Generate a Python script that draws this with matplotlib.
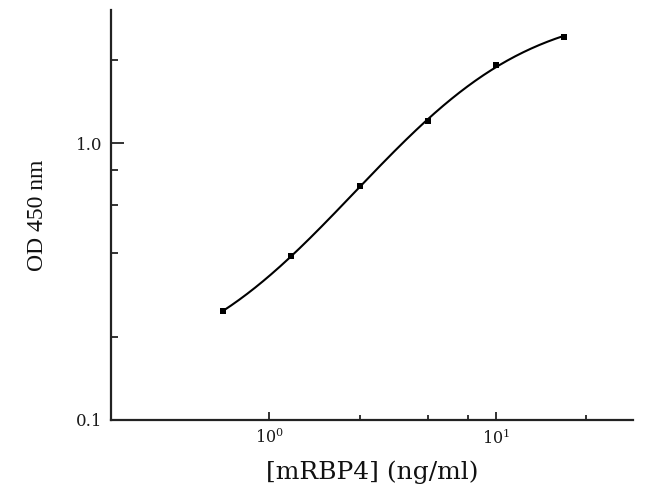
import numpy as np
import matplotlib
matplotlib.use("Agg")
import matplotlib.pyplot as plt
from matplotlib.ticker import FixedLocator, NullFormatter

# Data
conc = [0.625, 1.25, 2.5, 5, 10, 20]          # [mRBP4] (ng/ml)
od = [0.248, 0.391, 0.701, 1.20, 1.92, 2.43]   # OD 450 nm

x_major = [1, 10]
x_major_labels = ["10$^{0}$", "10$^{1}$"]
x_minor = [2.5, 5, 7.5, 25]
y_major = [0.1, 1.0]
y_major_labels = ["0.1", "1.0"]
y_minor = [0.2, 0.4, 0.6, 0.8, 2]


# four-parameter logistic fit (standard curve), Levenberg-Marquardt in numpy
def model(p, x):
    a, b, lc, d = p
    return d + (a - d) / (1.0 + (x / np.exp(lc)) ** b)


xd = np.asarray(conc, float); yd = np.asarray(od, float)


def resid(p):
    m = model(p, xd)
    m = np.where(m > 1e-6, m, 1e-6)
    return np.log10(m) - np.log10(yd)


p = np.array([0.1, 1.2, np.log(5.0), 3.0])
lam = 1e-2
r = resid(p); cost = r @ r
for _ in range(500):
    J = np.empty((len(xd), 4))
    for k in range(4):
        dp = np.zeros(4); dp[k] = 1e-6 * max(1.0, abs(p[k]))
        J[:, k] = (resid(p + dp) - r) / dp[k]
    H = J.T @ J
    g = J.T @ r
    step = np.linalg.solve(H + lam * np.diag(np.diag(H) + 1e-12), -g)
    pn = p + step
    rn = resid(pn); cn = rn @ rn
    if np.isfinite(cn) and cn < cost:
        p, r, cost = pn, rn, cn
        lam *= 0.5
    else:
        lam *= 4
    if lam > 1e8:
        break

xs = np.logspace(np.log10(xd[0]), np.log10(xd[-1]), 300)
ys = model(p, xs)

plt.rcParams['font.family'] = ['DejaVu Serif', 'Liberation Serif']
plt.rcParams['mathtext.fontset'] = 'dejavuserif'

fig = plt.figure(figsize=(6.5, 4.92), dpi=100)
ax = fig.add_axes([111 / 650, 72 / 492, (632.7 - 111) / 650, (420 - 10) / 492])

ax.plot(xs, ys, color='black', lw=1.5, solid_capstyle='round')
ax.plot(conc, od, linestyle='none', marker='s', markersize=4.4,
        color='black', markeredgewidth=0)

ax.set_xscale('log'); ax.set_yscale('log')
ax.set_xlim(0.2, 40)
ax.set_ylim(0.1, 3.03)

ax.xaxis.set_major_locator(FixedLocator(x_major))
ax.set_xticklabels(x_major_labels)
ax.xaxis.set_minor_locator(FixedLocator(x_minor))
ax.xaxis.set_minor_formatter(NullFormatter())
ax.yaxis.set_major_locator(FixedLocator(y_major))
ax.set_yticklabels(y_major_labels)
ax.yaxis.set_minor_locator(FixedLocator(y_minor))
ax.yaxis.set_minor_formatter(NullFormatter())

for s in ['top', 'right']:
    ax.spines[s].set_visible(False)
for s in ['left', 'bottom']:
    ax.spines[s].set_linewidth(1.6)
    ax.spines[s].set_color('#222222')

ax.tick_params(axis='x', which='major', direction='in', length=5.5, width=1.3,
               labelsize=11.5, pad=6, colors='#222222', labelcolor='#1a1a1a')
ax.tick_params(axis='x', which='minor', direction='in', length=3.5, width=1.3, colors='#222222')
ax.tick_params(axis='y', which='major', direction='in', length=9, width=1.3,
               labelsize=12, pad=6, colors='#222222', labelcolor='#1a1a1a')
ax.tick_params(axis='y', which='minor', direction='in', length=5, width=1.3, colors='#222222')

ax.set_xlabel('[mRBP4] (ng/ml)', fontsize=18, labelpad=9, color='#111111')
ax.set_ylabel('OD 450 nm', fontsize=17, labelpad=20, color='#111111',
              family=['Liberation Serif', 'DejaVu Serif'])

fig.savefig('out.png', dpi=100, facecolor='white')
